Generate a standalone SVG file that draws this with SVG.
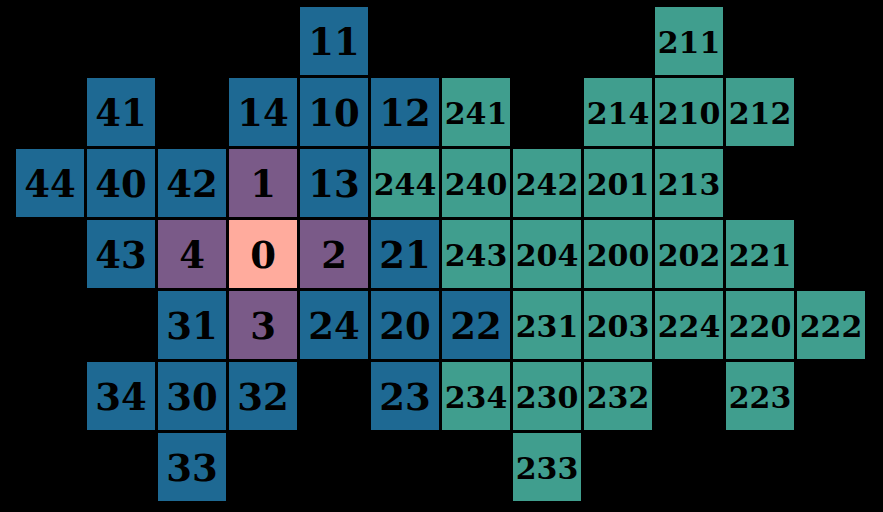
<svg xmlns="http://www.w3.org/2000/svg" width="883" height="512" viewBox="0 0 883 512">
<style>
rect.b{fill:#1e6993}
rect.t{fill:#409e8e}
rect.p{fill:#7a5a88}
rect.s{fill:#ffab9d}
text{font-family:"DejaVu Serif","Liberation Serif",serif;font-weight:bold;fill:#000;text-anchor:middle}
text.d2{font-size:37px}
text.d3{font-size:30px}
</style>
<rect x="0" y="0" width="883" height="512" fill="#000"/>
<g id="connectors"></g>
<g id="nodes">
<g id="n11"><rect class="b" x="300" y="7" width="68" height="68"/><text class="d2" x="334" y="55">11</text></g>
<g id="n211"><rect class="t" x="655" y="7" width="68" height="68"/><text class="d3" x="689" y="53">211</text></g>

<g id="n41"><rect class="b" x="87" y="78" width="68" height="68"/><text class="d2" x="121" y="126">41</text></g>
<g id="n14"><rect class="b" x="229" y="78" width="68" height="68"/><text class="d2" x="263" y="126">14</text></g>
<g id="n10"><rect class="b" x="300" y="78" width="68" height="68"/><text class="d2" x="334" y="126">10</text></g>
<g id="n12"><rect class="b" x="371" y="78" width="68" height="68"/><text class="d2" x="405" y="126">12</text></g>
<g id="n241"><rect class="t" x="442" y="78" width="68" height="68"/><text class="d3" x="476" y="124">241</text></g>
<g id="n214"><rect class="t" x="584" y="78" width="68" height="68"/><text class="d3" x="618" y="124">214</text></g>
<g id="n210"><rect class="t" x="655" y="78" width="68" height="68"/><text class="d3" x="689" y="124">210</text></g>
<g id="n212"><rect class="t" x="726" y="78" width="68" height="68"/><text class="d3" x="760" y="124">212</text></g>

<g id="n44"><rect class="b" x="16" y="149" width="68" height="68"/><text class="d2" x="50" y="197">44</text></g>
<g id="n40"><rect class="b" x="87" y="149" width="68" height="68"/><text class="d2" x="121" y="197">40</text></g>
<g id="n42"><rect class="b" x="158" y="149" width="68" height="68"/><text class="d2" x="192" y="197">42</text></g>
<g id="n1"><rect class="p" x="229" y="149" width="68" height="68"/><text class="d2" x="263" y="197">1</text></g>
<g id="n13"><rect class="b" x="300" y="149" width="68" height="68"/><text class="d2" x="334" y="197">13</text></g>
<g id="n244"><rect class="t" x="371" y="149" width="68" height="68"/><text class="d3" x="405" y="195">244</text></g>
<g id="n240"><rect class="t" x="442" y="149" width="68" height="68"/><text class="d3" x="476" y="195">240</text></g>
<g id="n242"><rect class="t" x="513" y="149" width="68" height="68"/><text class="d3" x="547" y="195">242</text></g>
<g id="n201"><rect class="t" x="584" y="149" width="68" height="68"/><text class="d3" x="618" y="195">201</text></g>
<g id="n213"><rect class="t" x="655" y="149" width="68" height="68"/><text class="d3" x="689" y="195">213</text></g>

<g id="n43"><rect class="b" x="87" y="220" width="68" height="68"/><text class="d2" x="121" y="268">43</text></g>
<g id="n4"><rect class="p" x="158" y="220" width="68" height="68"/><text class="d2" x="192" y="268">4</text></g>
<g id="n0"><rect class="s" x="229" y="220" width="68" height="68"/><text class="d2" x="263" y="268">0</text></g>
<g id="n2"><rect class="p" x="300" y="220" width="68" height="68"/><text class="d2" x="334" y="268">2</text></g>
<g id="n21"><rect class="b" x="371" y="220" width="68" height="68"/><text class="d2" x="405" y="268">21</text></g>
<g id="n243"><rect class="t" x="442" y="220" width="68" height="68"/><text class="d3" x="476" y="266">243</text></g>
<g id="n204"><rect class="t" x="513" y="220" width="68" height="68"/><text class="d3" x="547" y="266">204</text></g>
<g id="n200"><rect class="t" x="584" y="220" width="68" height="68"/><text class="d3" x="618" y="266">200</text></g>
<g id="n202"><rect class="t" x="655" y="220" width="68" height="68"/><text class="d3" x="689" y="266">202</text></g>
<g id="n221"><rect class="t" x="726" y="220" width="68" height="68"/><text class="d3" x="760" y="266">221</text></g>

<g id="n31"><rect class="b" x="158" y="291" width="68" height="68"/><text class="d2" x="192" y="339">31</text></g>
<g id="n3"><rect class="p" x="229" y="291" width="68" height="68"/><text class="d2" x="263" y="339">3</text></g>
<g id="n24"><rect class="b" x="300" y="291" width="68" height="68"/><text class="d2" x="334" y="339">24</text></g>
<g id="n20"><rect class="b" x="371" y="291" width="68" height="68"/><text class="d2" x="405" y="339">20</text></g>
<g id="n22"><rect class="b" x="442" y="291" width="68" height="68"/><text class="d2" x="476" y="339">22</text></g>
<g id="n231"><rect class="t" x="513" y="291" width="68" height="68"/><text class="d3" x="547" y="337">231</text></g>
<g id="n203"><rect class="t" x="584" y="291" width="68" height="68"/><text class="d3" x="618" y="337">203</text></g>
<g id="n224"><rect class="t" x="655" y="291" width="68" height="68"/><text class="d3" x="689" y="337">224</text></g>
<g id="n220"><rect class="t" x="726" y="291" width="68" height="68"/><text class="d3" x="760" y="337">220</text></g>
<g id="n222"><rect class="t" x="797" y="291" width="68" height="68"/><text class="d3" x="831" y="337">222</text></g>

<g id="n34"><rect class="b" x="87" y="362" width="68" height="68"/><text class="d2" x="121" y="410">34</text></g>
<g id="n30"><rect class="b" x="158" y="362" width="68" height="68"/><text class="d2" x="192" y="410">30</text></g>
<g id="n32"><rect class="b" x="229" y="362" width="68" height="68"/><text class="d2" x="263" y="410">32</text></g>
<g id="n23"><rect class="b" x="371" y="362" width="68" height="68"/><text class="d2" x="405" y="410">23</text></g>
<g id="n234"><rect class="t" x="442" y="362" width="68" height="68"/><text class="d3" x="476" y="408">234</text></g>
<g id="n230"><rect class="t" x="513" y="362" width="68" height="68"/><text class="d3" x="547" y="408">230</text></g>
<g id="n232"><rect class="t" x="584" y="362" width="68" height="68"/><text class="d3" x="618" y="408">232</text></g>
<g id="n223"><rect class="t" x="726" y="362" width="68" height="68"/><text class="d3" x="760" y="408">223</text></g>

<g id="n33"><rect class="b" x="158" y="433" width="68" height="68"/><text class="d2" x="192" y="481">33</text></g>
<g id="n233"><rect class="t" x="513" y="433" width="68" height="68"/><text class="d3" x="547" y="479">233</text></g>
</g>
</svg>
